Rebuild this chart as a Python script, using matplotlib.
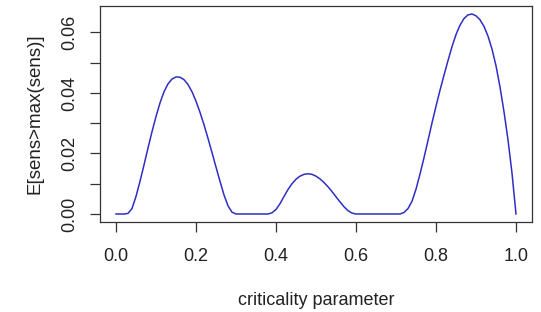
import matplotlib
matplotlib.use("Agg")
import matplotlib.pyplot as plt
from matplotlib.ticker import FixedLocator

# values
crit = [0.00, 0.02, 0.03, 0.04, 0.05, 0.06, 0.07, 0.08, 0.09, 0.10,
        0.11, 0.12, 0.13, 0.14, 0.15, 0.16, 0.17, 0.18, 0.19, 0.20,
        0.21, 0.22, 0.23, 0.24, 0.25, 0.26, 0.27, 0.28, 0.29, 0.30,
        0.34, 0.38, 0.39, 0.40, 0.41, 0.42, 0.43, 0.44, 0.45, 0.46,
        0.47, 0.48, 0.49, 0.50, 0.51, 0.52, 0.53, 0.54, 0.55, 0.56,
        0.57, 0.58, 0.59, 0.60, 0.66, 0.71, 0.72, 0.73, 0.74, 0.75,
        0.76, 0.77, 0.78, 0.79, 0.80, 0.81, 0.82, 0.83, 0.84, 0.85,
        0.86, 0.87, 0.88, 0.89, 0.90, 0.91, 0.92, 0.93, 0.94, 0.95,
        0.96, 0.97, 0.98, 0.99, 1.00]
exceed = [0.0, 0.0, 0.0002, 0.0018, 0.0058, 0.0108, 0.0162, 0.0218, 0.0272, 0.0322,
          0.0367, 0.0404, 0.0430, 0.0446, 0.0453, 0.0452, 0.0444, 0.0428, 0.0404, 0.0373,
          0.0336, 0.0295, 0.0250, 0.0203, 0.0155, 0.0108, 0.0063, 0.0027, 0.0006, 0.0,
          0.0, 0.0, 0.0004, 0.0015, 0.0034, 0.0058, 0.0081, 0.0100, 0.0115, 0.0125,
          0.0131, 0.0133, 0.0131, 0.0125, 0.0116, 0.0104, 0.0090, 0.0074, 0.0057, 0.0040,
          0.0024, 0.0011, 0.0003, 0.0, 0.0, 0.0, 0.0005, 0.0018, 0.0042, 0.0082,
          0.0132, 0.0186, 0.0243, 0.0301, 0.0356, 0.0409, 0.0459, 0.0507, 0.0553, 0.0593,
          0.0624, 0.0646, 0.0658, 0.0661, 0.0655, 0.0642, 0.0620, 0.0588, 0.0545, 0.0490,
          0.0420, 0.0338, 0.0245, 0.0135, 0.0]

xticks = [0.0, 0.2, 0.4, 0.6, 0.8, 1.0]
yticks = [0.00, 0.01, 0.02, 0.03, 0.04, 0.05, 0.06]
ylabels = ["0.00", "", "0.02", "", "0.04", "", "0.06"]

plt.rcParams['font.family'] = ['Liberation Sans', 'DejaVu Sans']

fig = plt.figure(figsize=(5.41, 3.12), dpi=100)
ax = fig.add_axes([100 / 541, 90 / 312, 432 / 541, 216 / 312])

ax.plot(crit, exceed, color='#2e2ec4', lw=1.1)

# R style 4% padding
ymax = max(exceed)
ax.set_xlim(-0.04, 1.04)
ax.set_ylim(-0.04 * ymax, 1.04 * ymax)

ax.xaxis.set_major_locator(FixedLocator(xticks))
ax.set_xticklabels([f"{v:.1f}" for v in xticks])
ax.yaxis.set_major_locator(FixedLocator(yticks))
ax.set_yticklabels(ylabels, rotation=90, va='center')

for s in ax.spines.values():
    s.set_color('#333333')
    s.set_linewidth(0.9)
ax.tick_params(direction='out', length=7.5, width=0.9, color='#333333',
               labelsize=13, labelcolor='#222222')
ax.tick_params(axis='x', pad=11)
ax.tick_params(axis='y', pad=8)

ax.set_xlabel('criticality parameter', fontsize=13, color='#222222', labelpad=20)
ax.set_ylabel('E[sens>max(sens)]', fontsize=13.5, color='#222222', labelpad=13)

fig.savefig('out.png', dpi=100)
